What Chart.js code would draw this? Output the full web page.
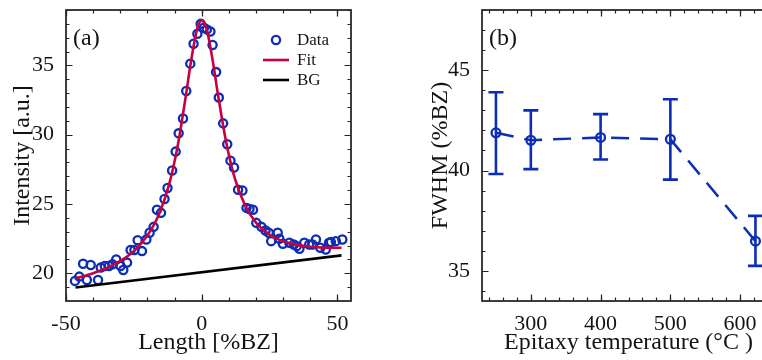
<!DOCTYPE html>
<html>
<head>
<meta charset="utf-8">
<script src="https://cdn.jsdelivr.net/npm/chart.js@4.4.1/dist/chart.umd.min.js"></script>
<style>
  html, body { margin: 0; padding: 0; background: #fff; overflow: hidden; }
  #wrap { position: relative; width: 762px; height: 360px; overflow: hidden; }
  #pa { position: absolute; left: 0; top: 0; }
  #pb { position: absolute; left: 380px; top: 0; }
</style>
</head>
<body>
<div id="wrap">
  <canvas id="pa" width="380" height="360"></canvas>
  <canvas id="pb" width="420" height="360"></canvas>
</div>
<script>
// ---- Panel (a): intensity profile along the streak ----
const lengthPts = [-46.7, -45.1, -43.7, -42.3, -40.9, -38.2, -37.2, -35.7, -34.2, -32.9,
  -31.5, -29.9, -28.9, -27.5, -26.2, -24.8, -23.6, -22.0, -20.4, -19.2,
  -17.7, -16.5, -15.0, -13.7, -12.6, -10.9, -9.6, -8.5, -6.9, -5.7,
  -4.2, -3.0, -1.6, -0.4, 0.8, 1.9, 3.2, 4.0, 5.3, 6.3,
  7.9, 9.4, 10.6, 11.9, 13.4, 15.0, 16.5, 17.6, 18.9, 20.1,
  22.0, 23.5, 24.7, 25.6, 28.0, 28.6, 29.9, 32.3, 33.9, 35.0,
  36.0, 37.8, 39.6, 40.8, 42.1, 43.7, 45.7, 46.9, 47.6, 49.4, 51.8];
const intensityPts = [19.45, 19.76, 20.69, 19.52, 20.60, 19.52, 20.41, 20.53, 20.53, 20.65,
  21.00, 20.53, 20.24, 20.77, 21.68, 21.68, 22.39, 21.60, 22.44, 22.92,
  23.35, 24.59, 24.36, 25.36, 26.15, 27.42, 28.78, 30.10, 31.17, 33.16,
  35.13, 36.56, 37.28, 38.00, 37.72, 37.60, 37.45, 36.47, 34.52, 32.68,
  30.82, 29.31, 28.13, 27.63, 26.03, 25.98, 24.72, 24.64, 24.59, 23.64,
  23.35, 23.09, 22.92, 22.32, 22.92, 22.49, 22.13, 22.20, 22.08, 21.96,
  21.77, 22.20, 22.08, 22.08, 22.44, 21.84, 21.72, 22.20, 22.25, 22.32, 22.44];

const fitLength = [-46.5, -40, -35, -30, -25, -20, -16, -12, -9, -6, -4, -2, -1, 0,
  1, 2, 4, 6, 9, 12, 16, 20, 25, 30, 35, 40, 45, 51.5];
const fitIntensity = [19.64, 20.01, 20.39, 20.89, 21.60, 22.72, 24.13, 26.42, 29.05, 32.61,
  35.23, 37.38, 38.03, 38.27, 38.07, 37.48, 35.41, 32.89, 29.47, 26.98,
  24.89, 23.66, 22.79, 22.31, 22.05, 21.91, 21.85, 21.84];

const bgLength = [-46.5, 51.5];
const bgIntensity = [18.97, 21.29];

const xTicksA = [-50, 0, 50];
const yTicksA = [20, 25, 30, 35];

// ---- Panel (b): peak width versus growth temperature ----
const temperatures = [250, 300, 400, 500, 622];
const fwhm = [41.88, 41.51, 41.65, 41.56, 36.48];
const fwhmLow = [39.83, 40.07, 40.55, 39.55, 35.25];
const fwhmHigh = [43.90, 43.00, 42.81, 43.55, 37.74];

const xTicksB = [300, 400, 500, 600];
const yTicksB = [35, 40, 45];

// ---- styling ----
const FONT = '"Liberation Serif", "DejaVu Serif", serif';
const BLUE = '#0C2DB6';
const CRIMSON = '#C8003C';
const INK = '#141414';

function steps(lo, hi, step) {
  const out = [];
  for (let v = Math.ceil(lo / step) * step; v <= hi + 1e-9; v += step) out.push(+v.toFixed(6));
  return out;
}

// Frame on all four sides with inward major/minor ticks
const framePlugin = {
  id: 'frame',
  afterDraw(chart, args, o) {
    const { ctx, chartArea: a, scales } = chart;
    const sx = scales.x, sy = scales.y;
    ctx.save();
    ctx.strokeStyle = '#222';
    ctx.lineWidth = 1.2;
    const draw = (vals, scale, len, isX) => {
      ctx.beginPath();
      for (const v of vals) {
        const p = Math.round(scale.getPixelForValue(v)) + 0.5;
        if (isX) {
          if (p < a.left || p > a.right) continue;
          ctx.moveTo(p, a.bottom); ctx.lineTo(p, a.bottom - len);
          ctx.moveTo(p, a.top); ctx.lineTo(p, a.top + len);
        } else {
          if (p < a.top || p > a.bottom) continue;
          ctx.moveTo(a.left, p); ctx.lineTo(a.left + len, p);
          ctx.moveTo(a.right, p); ctx.lineTo(a.right - len, p);
        }
      }
      ctx.stroke();
    };
    draw(steps(sx.min, sx.max, o.xMinor), sx, 3.5, true);
    draw(steps(sy.min, sy.max, o.yMinor), sy, 3.5, false);
    draw(o.xMajor, sx, 6.5, true);
    draw(o.yMajor, sy, 6.5, false);
    ctx.lineWidth = 1.8;
    ctx.strokeStyle = '#2a2a2a';
    ctx.strokeRect(a.left, a.top, a.right - a.left, a.bottom - a.top);
    // panel letter
    ctx.fillStyle = INK;
    ctx.font = `24px ${FONT}`;
    ctx.textBaseline = 'middle';
    ctx.textAlign = 'left';
    ctx.fillText(o.tag, a.left + 7, a.top + 29);
    ctx.restore();
  }
};

// Key for panel (a), drawn from the datasets' own styles
const keyPlugin = {
  id: 'keyBox',
  afterDraw(chart) {
    const { ctx, chartArea: a } = chart;
    const ds = chart.data.datasets;
    ctx.save();
    ctx.font = `17px ${FONT}`;
    ctx.textBaseline = 'middle';
    ctx.textAlign = 'left';
    ds.forEach((d, i) => {
      const y = a.top + 30 + i * 20;
      if (d.showLine) {
        ctx.strokeStyle = d.borderColor;
        ctx.lineWidth = d.borderWidth;
        ctx.beginPath();
        ctx.moveTo(a.right - 88, y);
        ctx.lineTo(a.right - 62, y);
        ctx.stroke();
      } else {
        ctx.strokeStyle = d.borderColor;
        ctx.lineWidth = d.pointBorderWidth;
        ctx.beginPath();
        ctx.arc(a.right - 75, y, d.pointRadius, 0, Math.PI * 2);
        ctx.stroke();
      }
      ctx.fillStyle = INK;
      ctx.fillText(d.label, a.right - 54, y + 1);
    });
    ctx.restore();
  }
};

// Vertical error bars with caps for panel (b)
const errorBarPlugin = {
  id: 'errorBars',
  afterDatasetsDraw(chart, args, o) {
    const { ctx, scales: { x, y } } = chart;
    ctx.save();
    ctx.strokeStyle = o.color;
    ctx.lineWidth = 2.6;
    temperatures.forEach((t, i) => {
      const px = x.getPixelForValue(t);
      const lo = y.getPixelForValue(fwhmLow[i]);
      const hi = y.getPixelForValue(fwhmHigh[i]);
      ctx.beginPath();
      ctx.moveTo(px, lo); ctx.lineTo(px, hi);
      ctx.moveTo(px - 7.5, lo); ctx.lineTo(px + 7.5, lo);
      ctx.moveTo(px - 7.5, hi); ctx.lineTo(px + 7.5, hi);
      ctx.stroke();
    });
    ctx.restore();
  }
};

function fixedTicks(list) {
  return s => { s.ticks = list.map(v => ({ value: v })); };
}
function noPad(s) { s.paddingTop = 0; s.paddingBottom = 0; s.paddingLeft = 0; s.paddingRight = 0; }

const tickFont = { family: FONT, size: 22 };
const titleFont = { family: FONT, size: 24 };

new Chart(document.getElementById('pa'), {
  type: 'scatter',
  data: {
    datasets: [
      {
        label: 'Data',
        data: lengthPts.map((x, i) => ({ x, y: intensityPts[i] })),
        showLine: false,
        pointStyle: 'circle',
        pointRadius: 4.1,
        pointBorderWidth: 2.3,
        borderColor: BLUE,
        pointBorderColor: BLUE,
        backgroundColor: 'rgba(0,0,0,0)',
        pointBackgroundColor: 'rgba(0,0,0,0)',
        order: 2
      },
      {
        label: 'Fit',
        data: fitLength.map((x, i) => ({ x, y: fitIntensity[i] })),
        showLine: true,
        pointRadius: 0,
        borderColor: CRIMSON,
        borderWidth: 2.6,
        cubicInterpolationMode: 'monotone',
        order: 0
      },
      {
        label: 'BG',
        data: bgLength.map((x, i) => ({ x, y: bgIntensity[i] })),
        showLine: true,
        pointRadius: 0,
        borderColor: '#000',
        borderWidth: 2.6,
        order: 1
      }
    ]
  },
  options: {
    responsive: false,
    animation: false,
    devicePixelRatio: 1,
    layout: { padding: { left: 0, top: 10, right: 29, bottom: 0 } },
    plugins: {
      legend: { display: false },
      tooltip: { enabled: false },
      frame: { xMinor: 10, yMinor: 1, xMajor: xTicksA, yMajor: yTicksA, tag: '(a)' }
    },
    scales: {
      x: {
        type: 'linear', min: -50, max: 55,
        grid: { display: false }, border: { display: false },
        afterBuildTicks: fixedTicks(xTicksA),
        afterFit: s => { s.height = 59; noPad(s); },
        ticks: { padding: 2, font: tickFont, color: INK, maxRotation: 0, callback: v => String(v) },
        title: { display: true, text: 'Length [%BZ]', font: titleFont, color: INK, padding: { top: 0, bottom: 3 } }
      },
      y: {
        type: 'linear', min: 18, max: 39,
        grid: { display: false }, border: { display: false },
        afterBuildTicks: fixedTicks(yTicksA),
        afterFit: s => { s.width = 66; noPad(s); },
        ticks: { padding: 4, font: tickFont, color: INK, callback: v => String(v) },
        title: { display: true, text: 'Intensity [a.u.]', font: titleFont, color: INK, padding: { top: 8, bottom: 0 } }
      }
    }
  },
  plugins: [framePlugin, keyPlugin]
});

new Chart(document.getElementById('pb'), {
  type: 'scatter',
  data: {
    datasets: [
      {
        label: 'FWHM',
        data: temperatures.map((x, i) => ({ x, y: fwhm[i] })),
        showLine: true,
        borderColor: BLUE,
        borderWidth: 2.5,
        borderDash: [18, 11],
        pointStyle: 'circle',
        pointRadius: 4.4,
        pointBorderWidth: 2.3,
        pointBorderColor: BLUE,
        pointBackgroundColor: 'rgba(0,0,0,0)',
        backgroundColor: 'rgba(0,0,0,0)'
      }
    ]
  },
  options: {
    responsive: false,
    animation: false,
    devicePixelRatio: 1,
    layout: { padding: { left: 0, top: 10, right: 25, bottom: 0 } },
    plugins: {
      legend: { display: false },
      tooltip: { enabled: false },
      frame: { xMinor: 20, yMinor: 1, xMajor: xTicksB, yMajor: yTicksB, tag: '(b)' },
      errorBars: { color: BLUE }
    },
    scales: {
      x: {
        type: 'linear', min: 230, max: 650,
        grid: { display: false }, border: { display: false },
        afterBuildTicks: fixedTicks(xTicksB),
        afterFit: s => { s.height = 59; noPad(s); },
        ticks: { padding: 2, font: tickFont, color: INK, maxRotation: 0, callback: v => String(v) },
        title: { display: true, text: 'Epitaxy temperature (°C )', font: titleFont, color: INK, padding: { top: 0, bottom: 3 } }
      },
      y: {
        type: 'linear', min: 33.5, max: 48,
        grid: { display: false }, border: { display: false },
        afterBuildTicks: fixedTicks(yTicksB),
        afterFit: s => { s.width = 102; noPad(s); },
        ticks: { padding: 4, font: tickFont, color: INK, callback: v => String(v) },
        title: { display: true, text: 'FWHM (%BZ)', font: titleFont, color: INK, padding: { top: 46, bottom: 0 } }
      }
    }
  },
  plugins: [framePlugin, errorBarPlugin]
});
</script>
</body>
</html>
